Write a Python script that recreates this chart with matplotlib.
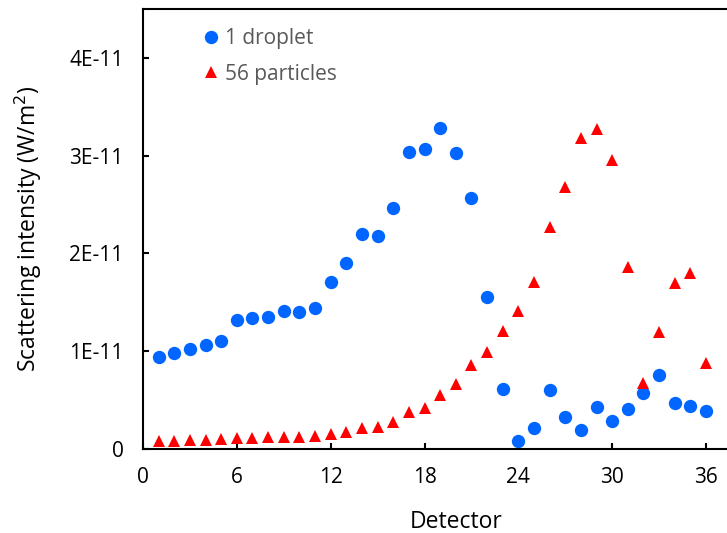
import matplotlib
matplotlib.use("Agg")
import matplotlib.pyplot as plt
from matplotlib.ticker import FixedLocator, FixedFormatter

plt.rcParams['font.family'] = ['Open Sans', 'DejaVu Sans']

detectors = list(range(1, 37))

droplet = [0.944, 0.985, 1.026, 1.067, 1.108, 1.32, 1.337, 1.354, 1.409, 1.398,
           1.442, 1.708, 1.90, 2.203, 2.182, 2.469, 3.04, 3.07, 3.28, 3.03,
           2.57, 1.558, 0.61, 0.085, 0.21, 0.60, 0.33, 0.194, 0.426, 0.29,
           0.406, 0.57, 0.757, 0.467, 0.44, 0.386]
droplet = [v * 1e-11 for v in droplet]

particles = [0.085, 0.085, 0.088, 0.092, 0.099, 0.116, 0.116, 0.123, 0.126, 0.126,
             0.130, 0.153, 0.177, 0.218, 0.225, 0.276, 0.375, 0.424, 0.552, 0.665,
             0.859, 0.989, 1.207, 1.412, 1.712, 2.274, 2.677, 3.178, 3.27, 2.957,
             1.865, 0.678, 1.194, 1.695, 1.797, 0.877]
particles = [v * 1e-11 for v in particles]

x_ticks = [0, 6, 12, 18, 24, 30, 36]
y_ticks = [0, 1e-11, 2e-11, 3e-11, 4e-11]
y_tick_labels = ["0", "1E-11", "2E-11", "3E-11", "4E-11"]

fig = plt.figure(figsize=(7.27, 5.33), dpi=100)
ax = fig.add_axes([143 / 727, 1 - 449 / 533, 625.6 / 727, 440 / 533])

ax.plot(detectors, droplet, linestyle='none', marker='o', markersize=9.6,
        color='#0066FF', markeredgewidth=0, label='1 droplet')
ax.plot(detectors, particles, linestyle='none', marker='^', markersize=9.0,
        color='#FF0000', markeredgewidth=0, label='56 particles')

ax.set_xlim(0, 40)
ax.set_ylim(0, 4.5e-11)
ax.xaxis.set_major_locator(FixedLocator(x_ticks))
ax.yaxis.set_major_locator(FixedLocator(y_ticks))
ax.yaxis.set_major_formatter(FixedFormatter(y_tick_labels))

for side in ['left', 'bottom', 'top', 'right']:
    ax.spines[side].set_linewidth(1.5)
    ax.spines[side].set_color('black')

ax.tick_params(axis='both', direction='in', length=4.5, width=1.5,
               labelsize=15, colors='black')
ax.tick_params(top=False, right=False)
ax.tick_params(axis='y', pad=14)
ax.tick_params(axis='x', pad=13)

ax.set_xlabel('Detector', fontsize=16.5, labelpad=16)
ax.set_ylabel('Scattering intensity (W/m$^2$)', fontsize=16.5, labelpad=18)

leg = ax.legend(loc='upper left', bbox_to_anchor=(0.086, 0.9755), frameon=False,
                fontsize=15, handlelength=0.6, handletextpad=0.35,
                labelspacing=0.7, borderaxespad=0)
for t in leg.get_texts():
    t.set_color('#595959')

fig.savefig('out.png', dpi=100)
